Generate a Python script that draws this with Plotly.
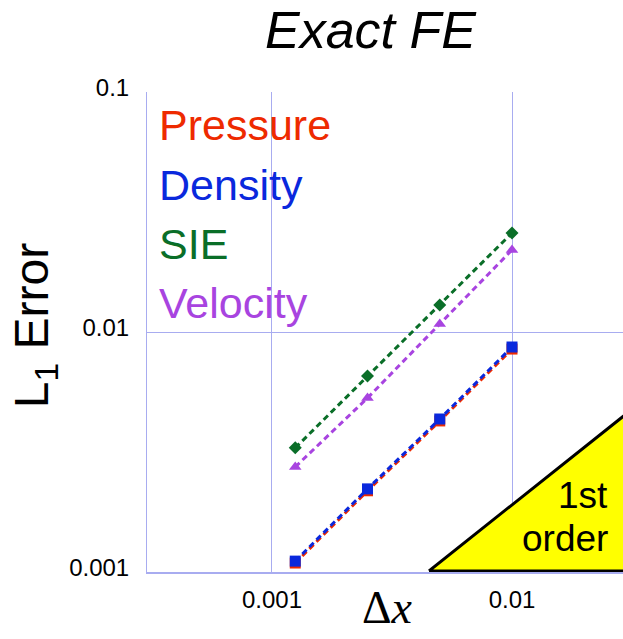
import plotly.graph_objects as go

dx = [0.00125, 0.0025, 0.005, 0.01]
pressure = [0.00109, 0.00218, 0.00426, 0.00849]
density = [0.00111, 0.00222, 0.00434, 0.00866]
sie = [0.00329, 0.00655, 0.01296, 0.02585]
velocity = [0.00274, 0.00531, 0.01080, 0.02197]

x_ticks = [0.001, 0.01]
x_ticklabels = ["0.001", "0.01"]
y_ticks = [0.001, 0.01, 0.1]
y_ticklabels = ["0.001", "0.01", "0.1"]

# first-order reference triangle
tri_x = [0.00451, 0.05, 0.05, 0.00451]
tri_y = [0.00101, 0.00101, 0.00686, 0.00101]

series = [
    ("Pressure", pressure, "#ee2a00", "square", 11),
    ("Density", density, "#0a28dd", "square", 11),
    ("SIE", sie, "#0a6e28", "diamond", 10),
    ("Velocity", velocity, "#a844e0", "triangle-up", 11),
]

fig = go.Figure()
fig.add_trace(go.Scatter(x=tri_x, y=tri_y, mode="lines", fill="toself",
                         fillcolor="#ffff00", line=dict(color="black", width=3),
                         hoverinfo="skip", showlegend=False))
for name, vals, col, sym, sz in series:
    fig.add_trace(go.Scatter(x=dx, y=vals, mode="lines+markers", name=name,
                             line=dict(color=col, width=3, dash="6px,4px"),
                             marker=dict(color=col, symbol=sym, size=sz),
                             showlegend=False))

grid = "rgb(168,172,240)"
fig.update_layout(
    width=623, height=639,
    margin=dict(l=147, r=0, t=92, b=67),
    paper_bgcolor="white", plot_bgcolor="white",
    font=dict(family="Liberation Sans, Arial", color="black"),
    xaxis=dict(type="log", range=[-3.5208, -1.5375], tickvals=x_ticks, ticktext=x_ticklabels,
               showgrid=True, gridcolor=grid, gridwidth=1, zeroline=False,
               showline=True, linecolor=grid, linewidth=2, ticks="",
               tickfont=dict(size=24), ticklabelstandoff=5),
    yaxis=dict(type="log", range=[-3, -1], tickvals=y_ticks, ticktext=y_ticklabels,
               showgrid=True, gridcolor=grid, gridwidth=1, zeroline=False,
               showline=True, linecolor=grid, linewidth=1, ticks="",
               tickfont=dict(size=24), ticklabelstandoff=12, ticklabelshift=-4),
    showlegend=False,
)

def ann(text, x, y, size, color="black", xanchor="center", family="Liberation Sans, Arial", angle=0):
    fig.add_annotation(text=text, x=x, y=y, xref="paper", yref="paper",
                       xanchor=xanchor, yanchor="middle", showarrow=False,
                       textangle=angle, font=dict(size=size, color=color, family=family))

ann("<i>Exact FE</i>", 0.471, 1.13, 52)
ann("L<sub>1</sub> Error", -0.235, 0.5125, 48, angle=-90)
ann("Δ<i>x</i>", 0.506, -0.074, 46, family="Liberation Serif, Times New Roman")
legend_y = [0.931, 0.806, 0.683, 0.560]
for (name, vals, col, sym, sz), yy in zip(series, legend_y):
    ann(name, 0.022, yy, 43, color=col, xanchor="left")
ann("1st", 0.972, 0.160, 37, xanchor="right")
ann("order", 0.972, 0.069, 37, xanchor="right")

fig.write_html("out.html")
